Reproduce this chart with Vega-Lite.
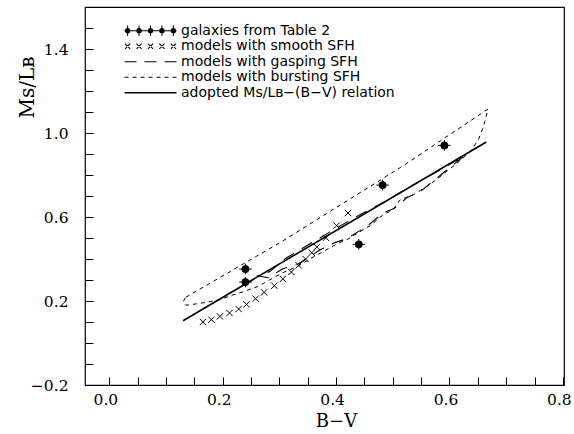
{
  "$schema": "https://vega.github.io/schema/vega-lite/v6.json",
  "width": 479,
  "height": 378,
  "autosize": {"type": "none"},
  "padding": {"left": 85, "top": 7, "right": 10, "bottom": 49},
  "background": "white",
  "config": {
    "view": {"stroke": "black", "strokeWidth": 1.2},
    "axis": {
      "grid": false, "domain": false, "tickColor": "black", "tickSize": -8, "tickWidth": 1,
      "labelFont": "DejaVu Serif", "labelFontSize": 15.5, "labelColor": "black",
      "titleFont": "DejaVu Serif", "titleColor": "black", "titleFontWeight": "normal",
      "labelOverlap": false, "labelFlush": false
    }
  },
  "data": {
    "values": [
      {"series": "galaxies from Table 2", "x": 0.240, "y": 0.352, "xerr": 0.011, "yerr": 0.025},
      {"series": "galaxies from Table 2", "x": 0.240, "y": 0.290, "xerr": 0.011, "yerr": 0.025},
      {"series": "galaxies from Table 2", "x": 0.440, "y": 0.470, "xerr": 0.011, "yerr": 0.025},
      {"series": "galaxies from Table 2", "x": 0.482, "y": 0.752, "xerr": 0.011, "yerr": 0.025},
      {"series": "galaxies from Table 2", "x": 0.591, "y": 0.941, "xerr": 0.011, "yerr": 0.025},

      {"series": "models with smooth SFH", "x": 0.165, "y": 0.100},
      {"series": "models with smooth SFH", "x": 0.180, "y": 0.111},
      {"series": "models with smooth SFH", "x": 0.195, "y": 0.127},
      {"series": "models with smooth SFH", "x": 0.212, "y": 0.143},
      {"series": "models with smooth SFH", "x": 0.228, "y": 0.162},
      {"series": "models with smooth SFH", "x": 0.242, "y": 0.184},
      {"series": "models with smooth SFH", "x": 0.258, "y": 0.211},
      {"series": "models with smooth SFH", "x": 0.273, "y": 0.241},
      {"series": "models with smooth SFH", "x": 0.291, "y": 0.273},
      {"series": "models with smooth SFH", "x": 0.306, "y": 0.305},
      {"series": "models with smooth SFH", "x": 0.321, "y": 0.338},
      {"series": "models with smooth SFH", "x": 0.334, "y": 0.370},
      {"series": "models with smooth SFH", "x": 0.346, "y": 0.400},
      {"series": "models with smooth SFH", "x": 0.357, "y": 0.430},
      {"series": "models with smooth SFH", "x": 0.366, "y": 0.457},
      {"series": "models with smooth SFH", "x": 0.382, "y": 0.501},
      {"series": "models with smooth SFH", "x": 0.401, "y": 0.559},
      {"series": "models with smooth SFH", "x": 0.421, "y": 0.619},

      {"series": "models with gasping SFH", "order": 1, "x": 0.624, "y": 0.887},
      {"series": "models with gasping SFH", "order": 2, "x": 0.585, "y": 0.801},
      {"series": "models with gasping SFH", "order": 3, "x": 0.548, "y": 0.720},
      {"series": "models with gasping SFH", "order": 4, "x": 0.525, "y": 0.692},
      {"series": "models with gasping SFH", "order": 5, "x": 0.502, "y": 0.640},
      {"series": "models with gasping SFH", "order": 6, "x": 0.483, "y": 0.620},
      {"series": "models with gasping SFH", "order": 7, "x": 0.460, "y": 0.568},
      {"series": "models with gasping SFH", "order": 8, "x": 0.442, "y": 0.535},
      {"series": "models with gasping SFH", "order": 9, "x": 0.419, "y": 0.497},
      {"series": "models with gasping SFH", "order": 10, "x": 0.398, "y": 0.478},
      {"series": "models with gasping SFH", "order": 11, "x": 0.372, "y": 0.444},
      {"series": "models with gasping SFH", "order": 12, "x": 0.331, "y": 0.373},
      {"series": "models with gasping SFH", "order": 13, "x": 0.306, "y": 0.354},
      {"series": "models with gasping SFH", "order": 14, "x": 0.280, "y": 0.311},
      {"series": "models with gasping SFH", "order": 15, "x": 0.262, "y": 0.320},
      {"series": "models with gasping SFH", "order": 16, "x": 0.283, "y": 0.340},
      {"series": "models with gasping SFH", "order": 17, "x": 0.310, "y": 0.401},
      {"series": "models with gasping SFH", "order": 18, "x": 0.354, "y": 0.473},
      {"series": "models with gasping SFH", "order": 19, "x": 0.402, "y": 0.549},
      {"series": "models with gasping SFH", "order": 20, "x": 0.442, "y": 0.611},
      {"series": "models with gasping SFH", "order": 21, "x": 0.486, "y": 0.673},
      {"series": "models with gasping SFH", "order": 22, "x": 0.530, "y": 0.744},
      {"series": "models with gasping SFH", "order": 23, "x": 0.566, "y": 0.797},
      {"series": "models with gasping SFH", "order": 24, "x": 0.624, "y": 0.887},

      {"series": "models with bursting SFH", "order": 1, "x": 0.135, "y": 0.218},
      {"series": "models with bursting SFH", "order": 2, "x": 0.301, "y": 0.478},
      {"series": "models with bursting SFH", "order": 3, "x": 0.513, "y": 0.835},
      {"series": "models with bursting SFH", "order": 4, "x": 0.668, "y": 1.114},
      {"series": "models with bursting SFH", "order": 5, "x": 0.660, "y": 1.031},
      {"series": "models with bursting SFH", "order": 6, "x": 0.651, "y": 0.968},
      {"series": "models with bursting SFH", "order": 7, "x": 0.639, "y": 0.920},
      {"series": "models with bursting SFH", "order": 8, "x": 0.624, "y": 0.881},
      {"series": "models with bursting SFH", "order": 9, "x": 0.610, "y": 0.849},
      {"series": "models with bursting SFH", "order": 10, "x": 0.595, "y": 0.817},
      {"series": "models with bursting SFH", "order": 11, "x": 0.577, "y": 0.778},
      {"series": "models with bursting SFH", "order": 12, "x": 0.560, "y": 0.746},
      {"series": "models with bursting SFH", "order": 13, "x": 0.536, "y": 0.706},
      {"series": "models with bursting SFH", "order": 14, "x": 0.513, "y": 0.682},
      {"series": "models with bursting SFH", "order": 15, "x": 0.500, "y": 0.635},
      {"series": "models with bursting SFH", "order": 16, "x": 0.483, "y": 0.611},
      {"series": "models with bursting SFH", "order": 17, "x": 0.460, "y": 0.559},
      {"series": "models with bursting SFH", "order": 18, "x": 0.442, "y": 0.530},
      {"series": "models with bursting SFH", "order": 19, "x": 0.419, "y": 0.492},
      {"series": "models with bursting SFH", "order": 20, "x": 0.402, "y": 0.473},
      {"series": "models with bursting SFH", "order": 21, "x": 0.377, "y": 0.435},
      {"series": "models with bursting SFH", "order": 22, "x": 0.354, "y": 0.401},
      {"series": "models with bursting SFH", "order": 23, "x": 0.331, "y": 0.363},
      {"series": "models with bursting SFH", "order": 24, "x": 0.306, "y": 0.335},
      {"series": "models with bursting SFH", "order": 25, "x": 0.283, "y": 0.301},
      {"series": "models with bursting SFH", "order": 26, "x": 0.261, "y": 0.268},
      {"series": "models with bursting SFH", "order": 27, "x": 0.236, "y": 0.244},
      {"series": "models with bursting SFH", "order": 28, "x": 0.213, "y": 0.225},
      {"series": "models with bursting SFH", "order": 29, "x": 0.195, "y": 0.206},
      {"series": "models with bursting SFH", "order": 30, "x": 0.178, "y": 0.197},
      {"series": "models with bursting SFH", "order": 31, "x": 0.155, "y": 0.187},
      {"series": "models with bursting SFH", "order": 32, "x": 0.135, "y": 0.180},
      {"series": "models with bursting SFH", "order": 33, "x": 0.130, "y": 0.197},
      {"series": "models with bursting SFH", "order": 34, "x": 0.135, "y": 0.218},

      {"series": "adopted Mꜱ/Lʙ−(B−V) relation", "order": 1, "x": 0.130, "y": 0.106},
      {"series": "adopted Mꜱ/Lʙ−(B−V) relation", "order": 2, "x": 0.665, "y": 0.957}
    ]
  },
  "encoding": {
    "x": {
      "field": "x", "type": "quantitative",
      "scale": {"domain": [-0.043, 0.802], "nice": false, "zero": false},
      "axis": {
        "title": "B−V", "titleFontSize": 18, "titleX": 251, "titleY": 36.5, "titleBaseline": "middle", "titleAlign": "center",
        "values": [0, 0.05, 0.1, 0.15, 0.2, 0.25, 0.3, 0.35, 0.4, 0.45, 0.5, 0.55, 0.6, 0.65, 0.7, 0.75, 0.8],
        "labelExpr": "abs(datum.value*5 - round(datum.value*5)) < 0.000001 ? format(datum.value, '.1f') : ''",
        "labelPadding": 15, "labelOffset": -4
      }
    },
    "y": {
      "field": "y", "type": "quantitative",
      "scale": {"domain": [-0.2, 1.6], "nice": false, "zero": false},
      "axis": {
        "title": "Mꜱ/Lʙ", "titleFontSize": 20, "titleX": -58, "titleY": 80, "titleAngle": 270, "titleBaseline": "middle", "titleAlign": "center",
        "values": [-0.2, -0.1, 0, 0.1, 0.2, 0.3, 0.4, 0.5, 0.6, 0.7, 0.8, 0.9, 1.0, 1.1, 1.2, 1.3, 1.4, 1.5],
        "labelExpr": "abs((datum.value+0.2)*2.5 - round((datum.value+0.2)*2.5)) < 0.000001 ? format(datum.value, '.1f') : ''",
        "labelPadding": 25
      }
    }
  },
  "layer": [
    {
      "transform": [{"filter": {"field": "series", "equal": "models with bursting SFH"}}],
      "mark": {"type": "line", "color": "black", "strokeWidth": 1, "strokeDash": [4, 4]},
      "encoding": {"order": {"field": "order", "type": "quantitative"}}
    },
    {
      "transform": [{"filter": {"field": "series", "equal": "models with gasping SFH"}}],
      "mark": {"type": "line", "color": "black", "strokeWidth": 1.1, "strokeDash": [12, 9]},
      "encoding": {"order": {"field": "order", "type": "quantitative"}}
    },
    {
      "transform": [{"filter": {"field": "series", "equal": "adopted Mꜱ/Lʙ−(B−V) relation"}}],
      "mark": {"type": "line", "color": "black", "strokeWidth": 1.6},
      "encoding": {"order": {"field": "order", "type": "quantitative"}}
    },
    {
      "transform": [{"filter": {"field": "series", "equal": "models with smooth SFH"}}],
      "mark": {"type": "point", "shape": "M-1,-1L1,1M-1,1L1,-1", "size": 40, "filled": false, "color": "black", "strokeWidth": 1, "opacity": 1}
    },
    {
      "transform": [{"filter": {"field": "series", "equal": "galaxies from Table 2"}}],
      "mark": {"type": "errorbar", "color": "black", "thickness": 1},
      "encoding": {"xError": {"field": "xerr"}}
    },
    {
      "transform": [{"filter": {"field": "series", "equal": "galaxies from Table 2"}}],
      "mark": {"type": "errorbar", "color": "black", "thickness": 1},
      "encoding": {"yError": {"field": "yerr"}}
    },
    {
      "transform": [{"filter": {"field": "series", "equal": "galaxies from Table 2"}}],
      "mark": {"type": "point", "shape": "circle", "size": 60, "filled": true, "color": "black", "opacity": 1}
    },
    {
      "mark": {"type": "point", "filled": true, "color": "black", "opacity": 0, "size": 2704},
      "encoding": {
        "shape": {
          "field": "series", "type": "nominal",
          "scale": {
            "domain": ["galaxies from Table 2", "models with smooth SFH", "models with gasping SFH", "models with bursting SFH", "adopted Mꜱ/Lʙ−(B−V) relation"],
            "range": [
              "M-0.765,0L-0.799,0.081L-0.88,0.115L-0.961,0.081L-0.995,0L-0.961,-0.081L-0.88,-0.115L-0.799,-0.081ZM-0.325,0L-0.359,0.081L-0.44,0.115L-0.521,0.081L-0.555,0L-0.521,-0.081L-0.44,-0.115L-0.359,-0.081ZM0.115,0L0.081,0.081L0,0.115L-0.081,0.081L-0.115,0L-0.081,-0.081L0,-0.115L0.081,-0.081ZM0.555,0L0.521,0.081L0.44,0.115L0.359,0.081L0.325,0L0.359,-0.081L0.44,-0.115L0.521,-0.081ZM0.995,0L0.961,0.081L0.88,0.115L0.799,0.081L0.765,0L0.799,-0.081L0.88,-0.115L0.961,-0.081ZM-1,-0.02L1,-0.02L1,0.02L-1,0.02ZM-0.9,-0.2L-0.86,-0.2L-0.86,0.2L-0.9,0.2ZM-0.46,-0.2L-0.42,-0.2L-0.42,0.2L-0.46,0.2ZM-0.02,-0.2L0.02,-0.2L0.02,0.2L-0.02,0.2ZM0.42,-0.2L0.46,-0.2L0.46,0.2L0.42,0.2ZM0.86,-0.2L0.9,-0.2L0.9,0.2L0.86,0.2Z",
              "M-0.966,-0.114L-0.766,0.086L-0.794,0.114L-0.994,-0.086ZM-0.966,0.114L-0.766,-0.086L-0.794,-0.114L-0.994,0.086ZM-0.526,-0.114L-0.326,0.086L-0.354,0.114L-0.554,-0.086ZM-0.526,0.114L-0.326,-0.086L-0.354,-0.114L-0.554,0.086ZM-0.086,-0.114L0.114,0.086L0.086,0.114L-0.114,-0.086ZM-0.086,0.114L0.114,-0.086L0.086,-0.114L-0.114,0.086ZM0.354,-0.114L0.554,0.086L0.526,0.114L0.326,-0.086ZM0.354,0.114L0.554,-0.086L0.526,-0.114L0.326,0.086ZM0.794,-0.114L0.994,0.086L0.966,0.114L0.766,-0.086ZM0.794,0.114L0.994,-0.086L0.966,-0.114L0.766,0.086Z",
              "M-1,-0.02L-0.54,-0.02L-0.54,0.02L-1,0.02ZM-0.23,-0.02L0.23,-0.02L0.23,0.02L-0.23,0.02ZM0.54,-0.02L1,-0.02L1,0.02L0.54,0.02Z",
              "M-1,-0.02L-0.846,-0.02L-0.846,0.02L-1,0.02ZM-0.692,-0.02L-0.538,-0.02L-0.538,0.02L-0.692,0.02ZM-0.385,-0.02L-0.231,-0.02L-0.231,0.02L-0.385,0.02ZM-0.077,-0.02L0.077,-0.02L0.077,0.02L-0.077,0.02ZM0.231,-0.02L0.385,-0.02L0.385,0.02L0.231,0.02ZM0.538,-0.02L0.692,-0.02L0.692,0.02L0.538,0.02ZM0.846,-0.02L1,-0.02L1,0.02L0.846,0.02Z",
              "M-1,-0.03L1,-0.03L1,0.03L-1,0.03Z"
            ]
          },
          "legend": {
            "orient": "none", "legendX": 38.5, "legendY": 17, "title": null, "padding": 0,
            "clipHeight": 13.5, "rowPadding": 0.5, "symbolSize": 2704, "symbolOpacity": 1,
            "labelFont": "DejaVu Sans", "labelFontSize": 14, "labelColor": "black", "labelOffset": 3.5, "labelLimit": 400,
            "encode": {"symbols": {"update": {"fill": {"value": "black"}, "strokeWidth": {"value": 0}, "opacity": {"value": 1}}}}
          }
        }
      }
    }
  ]
}
